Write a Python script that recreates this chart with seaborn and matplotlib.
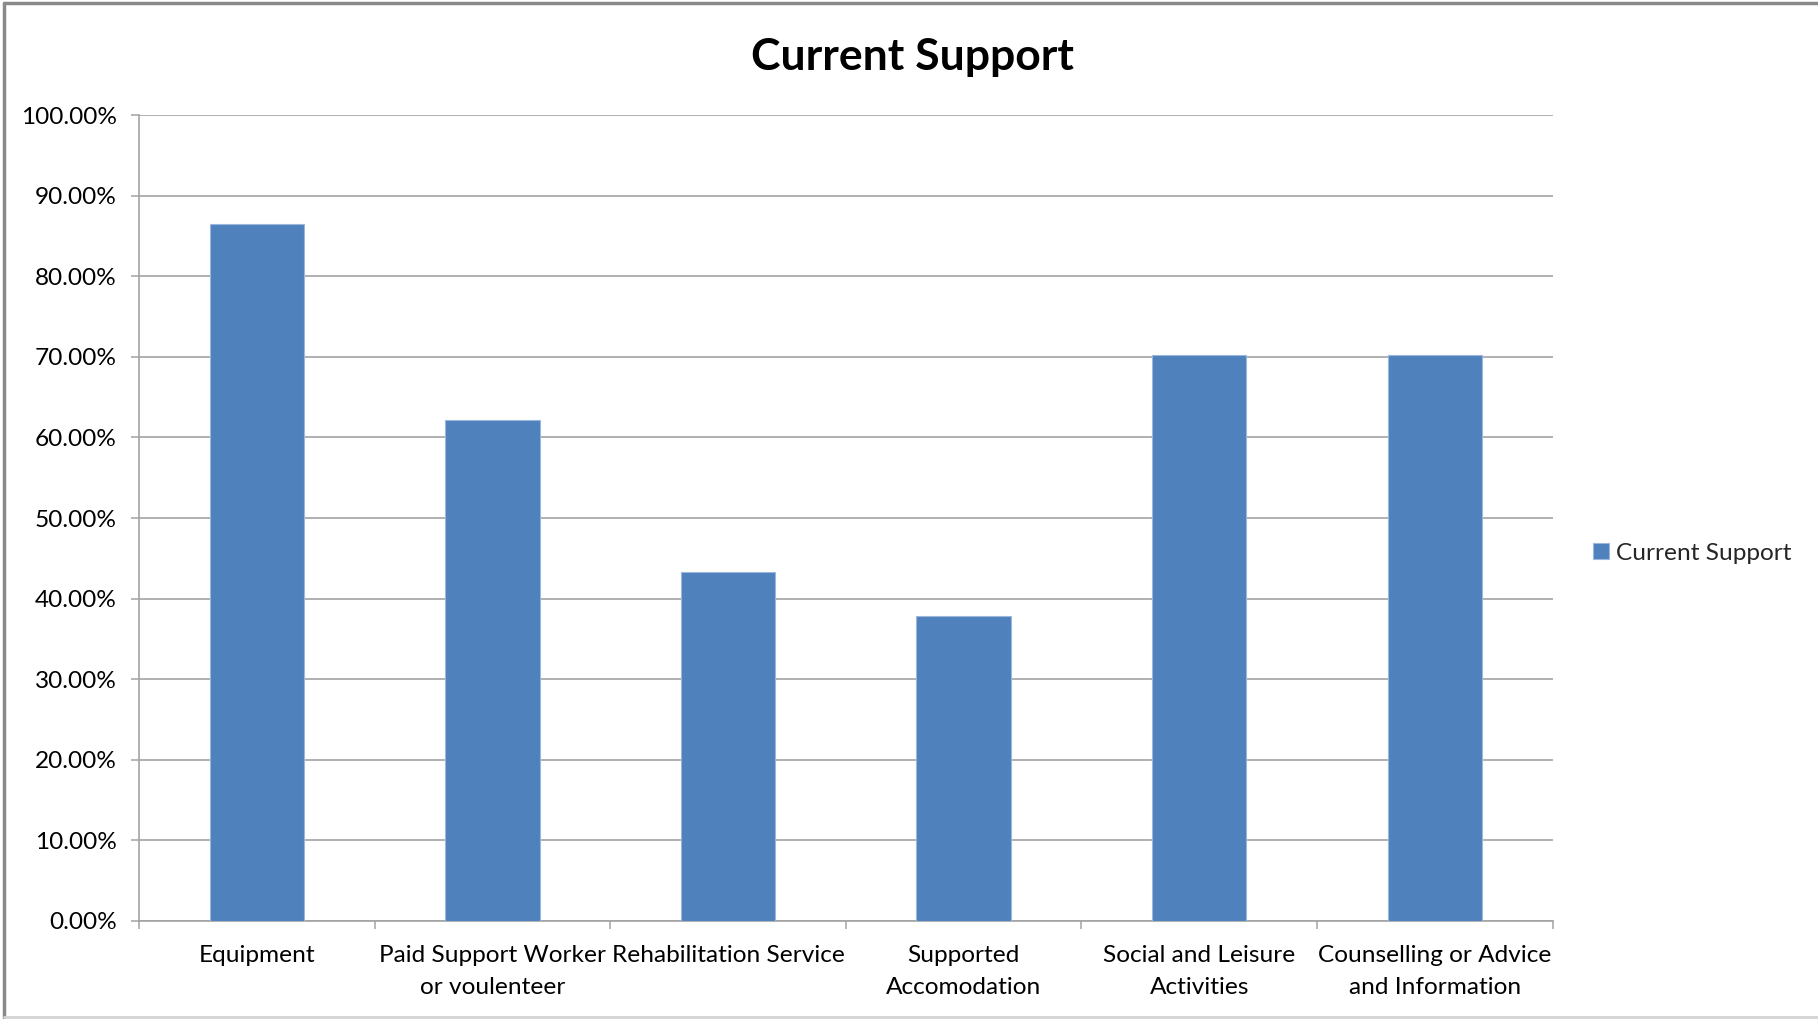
import matplotlib
matplotlib.use("Agg")
import matplotlib.pyplot as plt
from matplotlib.lines import Line2D
from matplotlib.ticker import PercentFormatter, FixedLocator
import seaborn as sns
import pandas as pd

# Share of respondents currently receiving each kind of support
categories = [
    "Equipment",
    "Paid Support Worker\nor voulenteer",
    "Rehabilitation Service",
    "Supported\nAccomodation",
    "Social and Leisure\nActivities",
    "Counselling or Advice\nand Information",
]
current_support = [0.8649, 0.6216, 0.4324, 0.3784, 0.7027, 0.7027]
y_ticks = [i / 10 for i in range(11)]

series_name = "Current Support"
bar_color = "#4F81BD"
grid_color = "#a3a3a3"
label_size = 17.6

sns.set_theme(style="white")
plt.rcParams["font.family"] = ["Lato", "DejaVu Sans"]

df = pd.DataFrame({"category": categories, "value": current_support})

fig = plt.figure(figsize=(18.18, 10.19), dpi=100)
ax = fig.add_axes([0.0765, 0.0962, 0.7775, 0.7909])

sns.barplot(data=df, x="category", y="value", color=bar_color, saturation=1,
            width=0.4, edgecolor="#9bb7dc", linewidth=0.8, ax=ax, zorder=3)

ax.set_xlim(-0.5, len(categories) - 0.5)
ax.set_ylim(0, 1)
ax.yaxis.set_major_locator(FixedLocator(y_ticks))
ax.yaxis.set_major_formatter(PercentFormatter(xmax=1, decimals=2))
ax.grid(axis="y", color=grid_color, linewidth=1.2, zorder=0)
ax.set_axisbelow(True)

# category boundaries carry the tick marks; labels sit at the centres
ax.xaxis.set_minor_locator(FixedLocator([i - 0.5 for i in range(len(categories) + 1)]))
ax.tick_params(axis="x", which="major", length=0, pad=17.5, labelsize=label_size,
               colors="#000000")
ax.tick_params(axis="x", which="minor", length=6, width=1.1, color=grid_color,
               direction="out", bottom=True)
ax.tick_params(axis="y", which="major", length=6, width=1.1, color=grid_color,
               direction="out", left=True, pad=10, labelsize=label_size,
               labelcolor="#000000")
for lbl in ax.get_xticklabels():
    lbl.set_linespacing(1.62)
    lbl.set_horizontalalignment("center")

ax.set_xlabel("")
ax.set_ylabel("")
for side in ("top", "right"):
    ax.spines[side].set_visible(False)
for side in ("left", "bottom"):
    ax.spines[side].set_color(grid_color)
    ax.spines[side].set_linewidth(1.2)

fig.text(0.5017, 0.944, "Current Support", ha="center", va="center",
         fontsize=32, fontweight="bold", color="#000000")

handle = ax.containers[0].patches[0]
fig.legend([handle], [series_name], loc="center left",
           bbox_to_anchor=(0.8765, 0.4573), frameon=False, fontsize=label_size,
           handlelength=0.64, handleheight=0.64, handletextpad=0.3,
           borderpad=0, borderaxespad=0)

# chart-area frame
fig.add_artist(Line2D([0.002, 1.0], [0.9975, 0.9975], transform=fig.transFigure,
                      color="#8a8a8a", linewidth=2.5))
fig.add_artist(Line2D([0.0022, 0.0022], [0.001, 0.9975], transform=fig.transFigure,
                      color="#8a8a8a", linewidth=2.5))
fig.add_artist(Line2D([0.002, 1.0], [0.0015, 0.0015], transform=fig.transFigure,
                      color="#d4d4d4", linewidth=2))

fig.savefig("out.png", dpi=100, facecolor="white")
